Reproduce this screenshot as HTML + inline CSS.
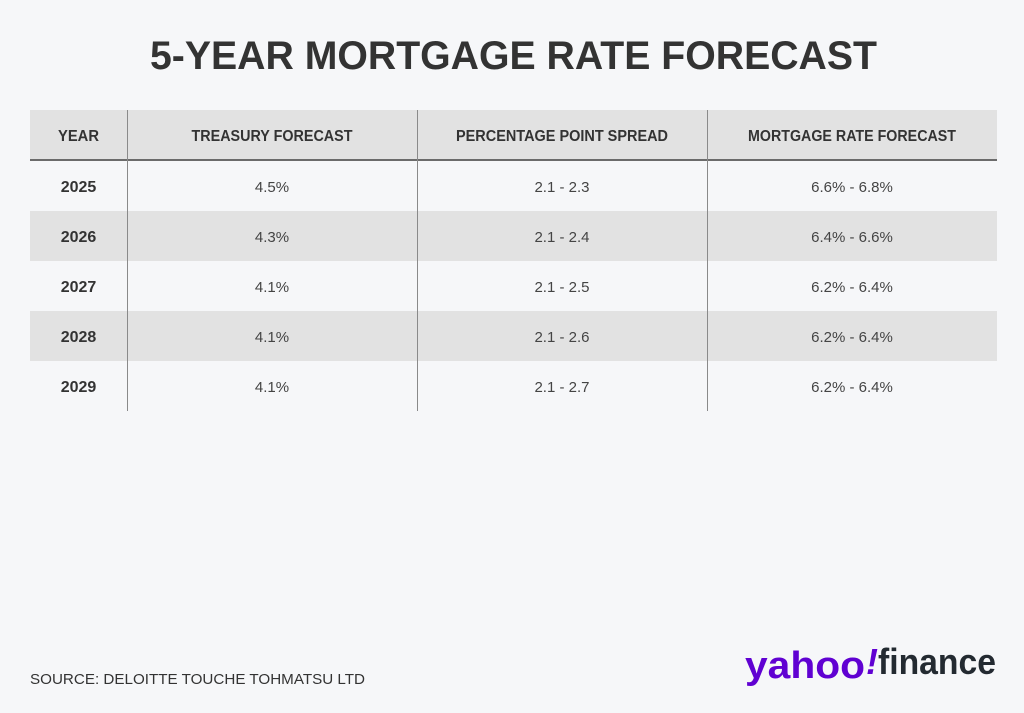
<!DOCTYPE html>
<html><head><meta charset="utf-8"><style>
html,body{margin:0;padding:0;background:#f6f7f9;}
svg{display:block;}
text{font-family:"Liberation Sans",sans-serif;}
</style></head><body>
<svg id="chart" width="1024" height="713" viewBox="0 0 1024 713" xmlns="http://www.w3.org/2000/svg">
<rect x="0" y="0" width="1024" height="713" fill="#f6f7f9"/>
<text x="150" y="69" font-size="40" font-weight="bold" fill="#333" textLength="727" lengthAdjust="spacingAndGlyphs">5-YEAR MORTGAGE RATE FORECAST</text>
<g id="tbl"></g>
<text x="30" y="684" font-size="15" fill="#333" textLength="335" lengthAdjust="spacingAndGlyphs">SOURCE: DELOITTE TOUCHE TOHMATSU LTD</text>
<g>
<text x="745" y="678" font-size="38" font-weight="bold" fill="#6001d2" textLength="120" lengthAdjust="spacingAndGlyphs">yahoo</text>
<text x="866" y="674" font-size="36" font-weight="bold" font-style="italic" fill="#6001d2">!</text>
<text x="878" y="674" font-size="36" font-weight="bold" fill="#232a31" textLength="118" lengthAdjust="spacingAndGlyphs">finance</text>
</g>
</svg>
<script>
const headers = ["YEAR","TREASURY FORECAST","PERCENTAGE POINT SPREAD","MORTGAGE RATE FORECAST"];
const years = ["2025","2026","2027","2028","2029"];
const treasury = ["4.5%","4.3%","4.1%","4.1%","4.1%"];
const spread = ["2.1 - 2.3","2.1 - 2.4","2.1 - 2.5","2.1 - 2.6","2.1 - 2.7"];
const mortgage = ["6.6% - 6.8%","6.4% - 6.6%","6.2% - 6.4%","6.2% - 6.4%","6.2% - 6.4%"];

const NS="http://www.w3.org/2000/svg";
const g=document.getElementById('tbl');
const colX=[30,127,417,707,997];
const headTop=110, headH=50, rowH=50, bodyTop=161;
const hdrW=[41,161,212,208];
function el(tag,attrs){const e=document.createElementNS(NS,tag);for(const k in attrs)e.setAttribute(k,attrs[k]);g.appendChild(e);return e;}
function txt(s,x,y,opts){const t=el('text',Object.assign({x:x,y:y,'text-anchor':'middle'},opts));t.textContent=s;return t;}

const hb=el('rect',{x:30,y:headTop,width:967,height:headH,fill:'#e2e2e2'});


for(let i=0;i<years.length;i++){
  if(i%2===1){
    const r=el('rect',{x:30,y:bodyTop+i*rowH,width:967,height:rowH,fill:'#e2e2e2'});
    
    
  }
}
const hl=el('rect',{x:30,y:159,width:967,height:2,fill:'#6b6b6b'});


for(let c=1;c<4;c++){
  const l=el('rect',{x:colX[c],y:headTop,width:1,height:bodyTop+years.length*rowH-headTop,fill:'#8a8a8a'});
  
  
}
headers.forEach((h,c)=>{
  const cx=(colX[c]+colX[c+1])/2;
  const t=txt(h,cx-hdrW[c]/2,141,{'font-size':16,'font-weight':'bold',fill:'#333','text-anchor':'start',textLength:hdrW[c],lengthAdjust:'spacingAndGlyphs'});
  
  
});
const cols=[years,treasury,spread,mortgage];
for(let i=0;i<years.length;i++){
  const y=bodyTop+i*rowH+rowH/2+6;
  cols.forEach((arr,c)=>{
    const cx=(colX[c]+colX[c+1])/2;
    const t=txt(arr[i],cx,y,c===0?{'font-size':16,'font-weight':'bold',fill:'#333'}:{'font-size':15,fill:'#444'});
    
    
  });
}
</script>
</body></html>
